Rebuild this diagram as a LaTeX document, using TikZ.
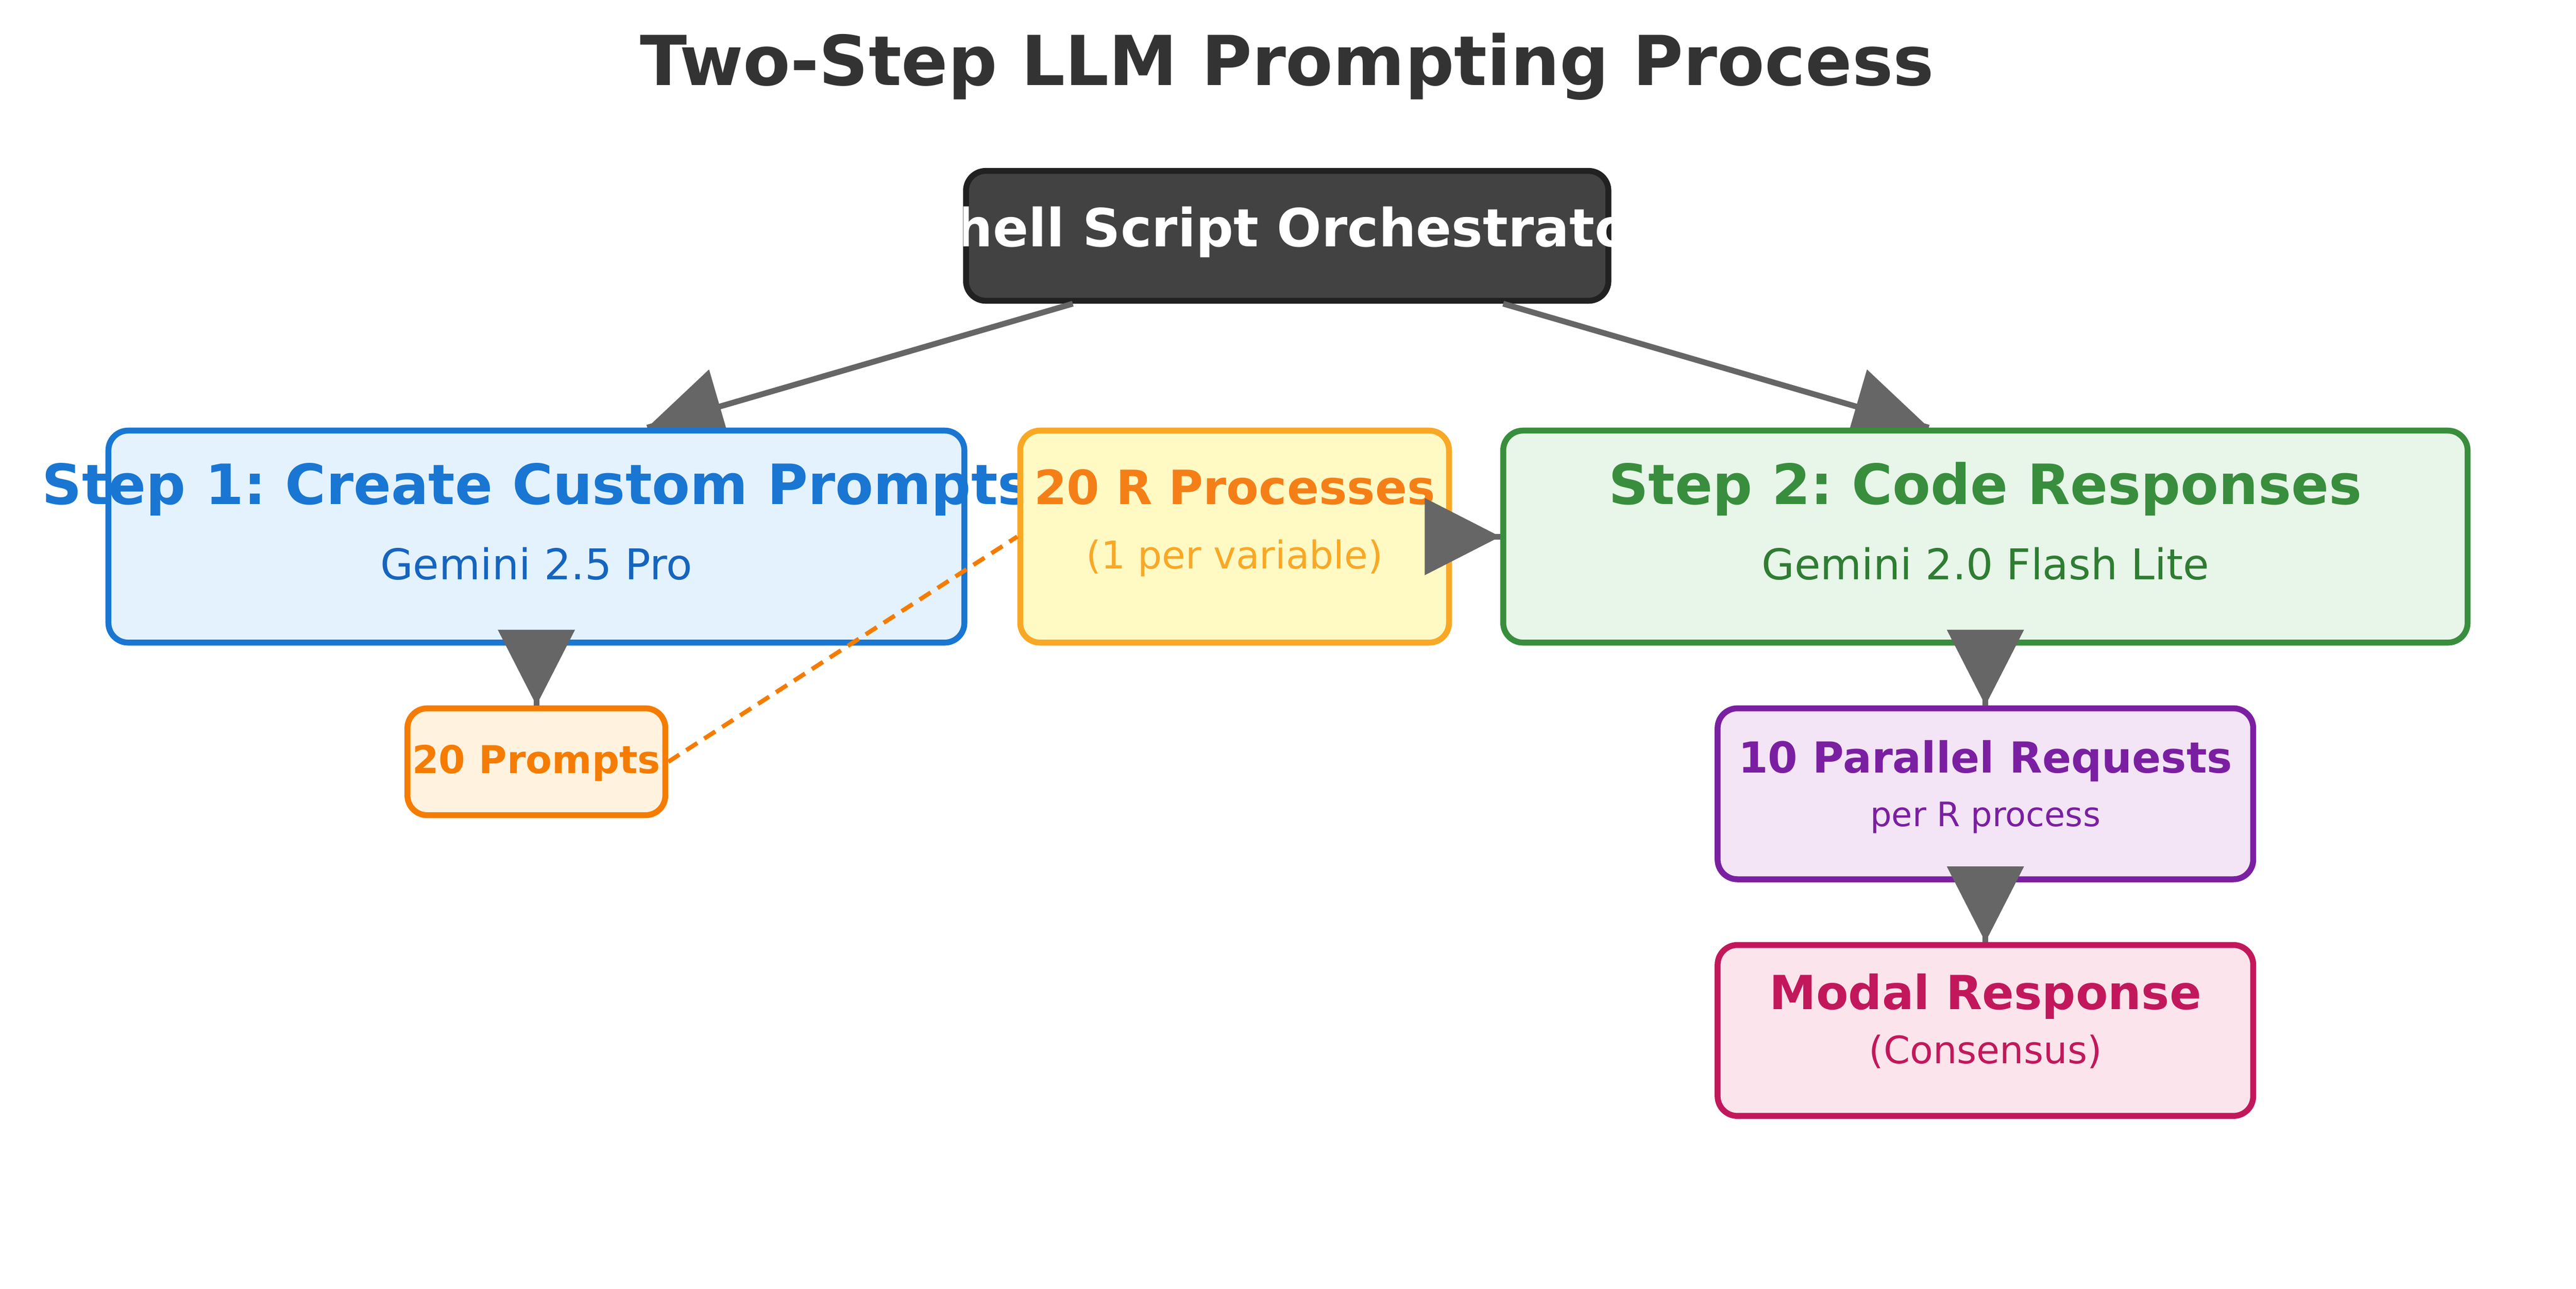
\documentclass[tikz,border=0pt]{standalone}
\usepackage{fontspec}
\setmainfont{DejaVu Sans}
\usetikzlibrary{calc}
\frenchspacing
\definecolor{titlegray}{HTML}{333333}
\definecolor{arrowgray}{HTML}{666666}
\definecolor{orchfill}{HTML}{424242}
\definecolor{orchborder}{HTML}{212121}
\definecolor{sonefill}{HTML}{E3F2FD}
\definecolor{soneborder}{HTML}{1976D2}
\definecolor{sonesub}{HTML}{1565C0}
\definecolor{rfill}{HTML}{FFF9C4}
\definecolor{rborder}{HTML}{F9A825}
\definecolor{rtitle}{HTML}{F57F17}
\definecolor{stwofill}{HTML}{E8F5E9}
\definecolor{stwoborder}{HTML}{388E3C}
\definecolor{stwosub}{HTML}{2E7D32}
\definecolor{pfill}{HTML}{FFF3E0}
\definecolor{pborder}{HTML}{F57C00}
\definecolor{parfill}{HTML}{F3E5F5}
\definecolor{parborder}{HTML}{7B1FA2}
\definecolor{modfill}{HTML}{FCE4EC}
\definecolor{modborder}{HTML}{C2185B}
\tikzset{
  box/.style={draw, rectangle, rounded corners=12pt, line width=3.6pt, inner sep=0pt},
  lbl/.style={anchor=base, inner sep=0pt, font=\frenchspacing},
  conn/.style={draw=arrowgray, line width=3.5pt},
  head/.style={fill=arrowgray},
  dashconn/.style={draw=pborder, line width=2.6pt, dash pattern=on 8pt off 5pt},
}
\newcommand\bigarrow[2]{%
  \draw[conn] (#1) -- (#2);
  \path ($(#2)!46pt!(#1)$) coordinate (tmpbase);
  \fill[head] (#2) -- ($(tmpbase)!23.5pt!90:(#2)$) -- ($(tmpbase)!23.5pt!-90:(#2)$) -- cycle;
}
\newcommand\fsz[1]{\fontsize{#1}{#1}\selectfont\frenchspacing}
\begin{document}
\begin{tikzpicture}[x=1pt,y=-1pt]
\fill[white] (0,0) rectangle (1568,784);
\useasboundingbox (0,0) rectangle (1568,784);

% title
\node[lbl, text=titlegray, font=\bfseries\fsz{41.9}] (title) at (783.5,52) {Two-Step LLM Prompting Process};

% orchestrator
\node[box, draw=orchborder, fill=orchfill, minimum width=391pt, minimum height=79pt] (orch) at (783.5,143.5) {};
\begin{scope}
  \clip[rounded corners=12pt] (orch.south west) rectangle (orch.north east);
  \node[lbl, text=white, font=\bfseries\fsz{32}] (orchtxt) at (783.5,150) {Shell Script Orchestrator};
\end{scope}

% step boxes (placeholders first, so that arrow coordinates exist)
\path (326.5,326.5) node[box, draw=none, fill=none, minimum width=521pt, minimum height=129pt] (step1) {};
\path (1208.5,326.5) node[box, draw=none, fill=none, minimum width=587pt, minimum height=129pt] (step2) {};

% diagonal arrows from orchestrator (below the step boxes)
\coordinate (aones) at ($(orch.south)+(-130.5,0)$);
\coordinate (aonet) at ($(step1.north)+(67.5,0)$);
\coordinate (atwos) at ($(orch.south)+(131.5,0)$);
\coordinate (atwot) at ($(step2.north)+(-34.5,0)$);
\bigarrow{aones}{aonet}
\bigarrow{atwos}{atwot}

% step 1
\node[box, draw=soneborder, fill=sonefill, minimum width=521pt, minimum height=129pt] (step1b) at (step1) {};
\node[lbl, text=soneborder, font=\bfseries\fsz{33.8}] (step1t) at (326.5,307) {Step 1: Create Custom Prompts};
\node[lbl, text=sonesub, font=\fsz{25.8}] (step1s) at (326.5,352.7) {Gemini 2.5 Pro};

% R processes
\node[box, draw=rborder, fill=rfill, minimum width=261pt, minimum height=129pt] (rbox) at (751.5,326.5) {};
\node[lbl, text=rtitle, font=\bfseries\fsz{28.7}] (rboxt) at (751.5,307) {20 R Processes};
\node[lbl, text=rborder, font=\fsz{23.3}] (rboxs) at (751.5,346) {(1 per variable)};

% step 2
\node[box, draw=stwoborder, fill=stwofill, minimum width=587pt, minimum height=129pt] (step2b) at (step2) {};
\node[lbl, text=stwoborder, font=\bfseries\fsz{33.8}] (step2t) at (1208.5,307) {Step 2: Code Responses};
\node[lbl, text=stwosub, font=\fsz{25.8}] (step2s) at (1208.5,352.7) {Gemini 2.0 Flash Lite};

% 20 prompts
\node[box, draw=pborder, fill=pfill, minimum width=157pt, minimum height=65pt] (prompts) at (326.5,463.5) {};
\node[lbl, text=pborder, font=\bfseries\fsz{23.3}] (promptst) at (326.5,470.4) {20 Prompts};

% parallel requests
\node[box, draw=parborder, fill=parfill, minimum width=326pt, minimum height=104pt] (par) at (1208.5,483) {};
\node[lbl, text=parborder, font=\bfseries\fsz{26}] (part) at (1208.5,470.3) {10 Parallel Requests};
\node[lbl, text=parborder, font=\fsz{20.5}] (pars) at (1208.5,503) {per R process};

% modal response
\node[box, draw=modborder, fill=modfill, minimum width=326pt, minimum height=104pt] (modal) at (1208.5,627) {};
\node[lbl, text=modborder, font=\bfseries\fsz{28.6}] (modalt) at (1208.5,614.3) {Modal Response};
\node[lbl, text=modborder, font=\fsz{23}] (modals) at (1208.5,647) {(Consensus)};

% short arrows
\coordinate (bones) at (step1.south);
\coordinate (bonet) at (prompts.north);
\bigarrow{bones}{bonet}
\coordinate (btwos) at (rbox.east);
\coordinate (btwot) at (step2.west);
\bigarrow{btwos}{btwot}
\coordinate (bthrees) at (step2.south);
\coordinate (bthreet) at (par.north);
\bigarrow{bthrees}{bthreet}
\coordinate (bfours) at (par.south);
\coordinate (bfourt) at (modal.north);
\bigarrow{bfours}{bfourt}

% dashed link
\draw[dashconn] (prompts.east) -- (rbox.west);
\end{tikzpicture}
\end{document}
